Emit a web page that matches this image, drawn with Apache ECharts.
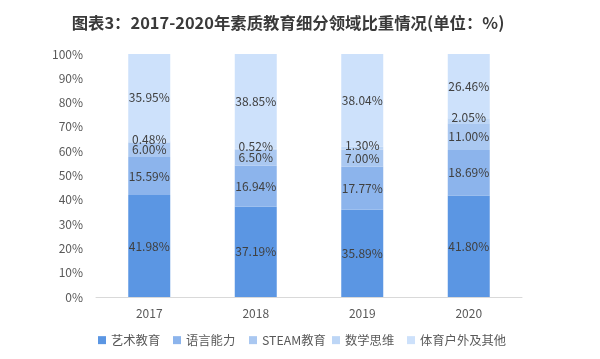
<!DOCTYPE html>
<html><head><meta charset="utf-8">
<script src="https://cdn.jsdelivr.net/npm/echarts@6/dist/echarts.min.js"></script>
<style>html,body{margin:0;padding:0;background:#fff}#c{width:600px;height:359px}</style>
</head><body><div id="c"></div>
<script>
const categories = ['2017', '2018', '2019', '2020'];
const seriesNames = ['艺术教育', '语言能力', 'STEAM教育', '数学思维', '体育户外及其他'];
const art = [41.98, 37.19, 35.89, 41.80];
const language = [15.59, 16.94, 17.77, 18.69];
const steam = [6.00, 6.50, 7.00, 11.00];
const math = [0.48, 0.52, 1.30, 2.05];
const sportsOther = [35.95, 38.85, 38.04, 26.46];
const yTicks = [0, 10, 20, 30, 40, 50, 60, 70, 80, 90, 100];

const colors = ['#5b96e3', '#8cb4ec', '#aac8f1', '#bdd6f6', '#cde1fb'];
const values = [art, language, steam, math, sportsOther];
const legendLefts = [93, 168, 244, 327, 402];
const font = '"Noto Sans CJK SC", "Noto Sans", sans-serif';

const chart = echarts.init(document.getElementById('c'), null, {renderer: 'canvas'});
chart.setOption({
  animation: false,
  color: colors,
  title: {
    text: '图表3：2017-2020年素质教育细分领域比重情况(单位：%)',
    left: 283, top: 10, textAlign: 'center',
    textStyle: {fontFamily: font, fontSize: 16.4, fontWeight: 'bold', color: '#3a3a3a'}
  },
  grid: {left: 96, right: 78, top: 54, bottom: 62},
  legend: seriesNames.map((name, i) => ({
    left: legendLefts[i], top: 329,
    itemWidth: 8, itemHeight: 8, itemGap: 0, itemTextGap: 4,
    icon: 'rect',
    textStyle: {fontFamily: font, fontSize: 12.3, color: '#595959'},
    data: [name]
  })),
  xAxis: {
    type: 'category', data: categories,
    axisLine: {lineStyle: {color: '#d9d9d9'}},
    axisTick: {show: false},
    axisLabel: {fontFamily: font, fontSize: 12, color: '#595959', margin: 10}
  },
  yAxis: {
    type: 'value', min: yTicks[0], max: yTicks[yTicks.length - 1], interval: 10,
    axisLine: {show: false}, axisTick: {show: false},
    splitLine: {show: false},
    axisLabel: {fontFamily: font, fontSize: 12, color: '#595959', margin: 13,
      formatter: v => v + '%'}
  },
  series: seriesNames.map((name, i) => ({
    name, type: 'bar', stack: 'total', barWidth: 42,
    data: values[i],
    label: {
      show: true, position: 'inside',
      offset: i === 3 ? [0, -3] : [0, 0],
      fontFamily: font, fontSize: 12, color: '#404040',
      formatter: p => p.value.toFixed(2) + '%'
    },
    emphasis: {disabled: true}
  }))
});
</script></body></html>
